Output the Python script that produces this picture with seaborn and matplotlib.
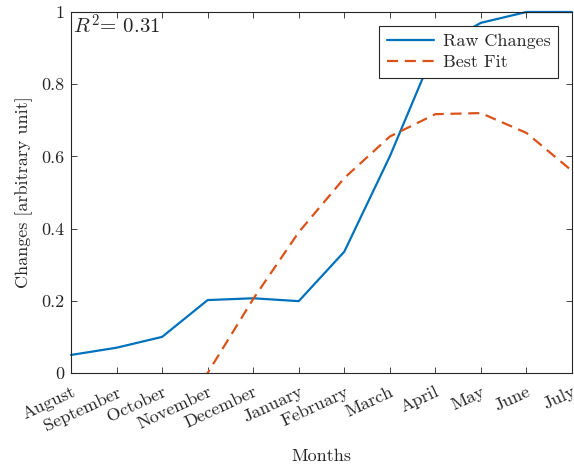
import pandas as pd
import seaborn as sns
import matplotlib
import matplotlib.pyplot as plt

matplotlib.use('Agg')

# Data
months = ["August", "September", "October", "November", "December", "January",
          "February", "March", "April", "May", "June", "July"]
raw_changes = [0.05, 0.07, 0.10, 0.202, 0.207, 0.199, 0.336, 0.60, 0.90, 0.97, 1.0, 1.0]
best_fit = [-0.56, -0.38, -0.19, 0.0, 0.205, 0.39, 0.54, 0.655, 0.717, 0.72, 0.665, 0.56]
r_squared = 0.31

df = pd.DataFrame({
    "idx": list(range(len(months))) * 2,
    "value": raw_changes + best_fit,
    "series": ["Raw Changes"] * len(months) + ["Best Fit"] * len(months),
})

sns.set_style("ticks")
plt.rcParams['font.family'] = ['cmr10', 'DejaVu Serif']
plt.rcParams['mathtext.fontset'] = 'cm'
plt.rcParams['axes.unicode_minus'] = False

fig = plt.figure(figsize=(5.74, 4.67), dpi=100)
ax = fig.add_axes([0.1237, 0.2013, 0.8728, 0.773])

sns.lineplot(data=df, x="idx", y="value", hue="series", style="series",
             palette={"Raw Changes": "#0072BD", "Best Fit": "#D95319"},
             dashes={"Raw Changes": "", "Best Fit": (5, 3)},
             linewidth=1.6, ax=ax, sort=False)
# raw line touches the top of the box; keep it visible there
ax.lines[0].set_clip_on(False)

ax.set_xlim(0, len(months) - 1)
ax.set_ylim(0, 1)
ax.set_xticks(range(len(months)))
ax.set_xticklabels(months, rotation=25, ha='right', va='top',
                   rotation_mode='anchor', fontsize=13)
ax.set_yticks([0, 0.2, 0.4, 0.6, 0.8, 1])
ax.set_yticklabels(["0", "0.2", "0.4", "0.6", "0.8", "1"], fontsize=13)
ax.tick_params(direction='in', top=True, right=True, length=4, width=0.6,
               color='#262626', pad=5)
ax.tick_params(axis='x', pad=8)
for s in ax.spines.values():
    s.set_color('#262626')
    s.set_linewidth(0.8)

ax.set_xlabel("Months", fontsize=13, labelpad=11)
ax.set_ylabel("Changes [arbitrary unit]", fontsize=13, labelpad=6)
ax.text(0.003, 0.995, "$R^2$= %.2f" % r_squared, transform=ax.transAxes,
        fontsize=15, va='top', ha='left')

leg = ax.legend(loc='upper right', fontsize=13, frameon=True, fancybox=False,
                edgecolor='#262626', framealpha=1, borderaxespad=0.8,
                handlelength=2.6, handletextpad=0.5, borderpad=0.4,
                labelspacing=0.3)
leg.get_frame().set_linewidth(0.8)

fig.savefig("out.png", dpi=100)
plt.close(fig)
